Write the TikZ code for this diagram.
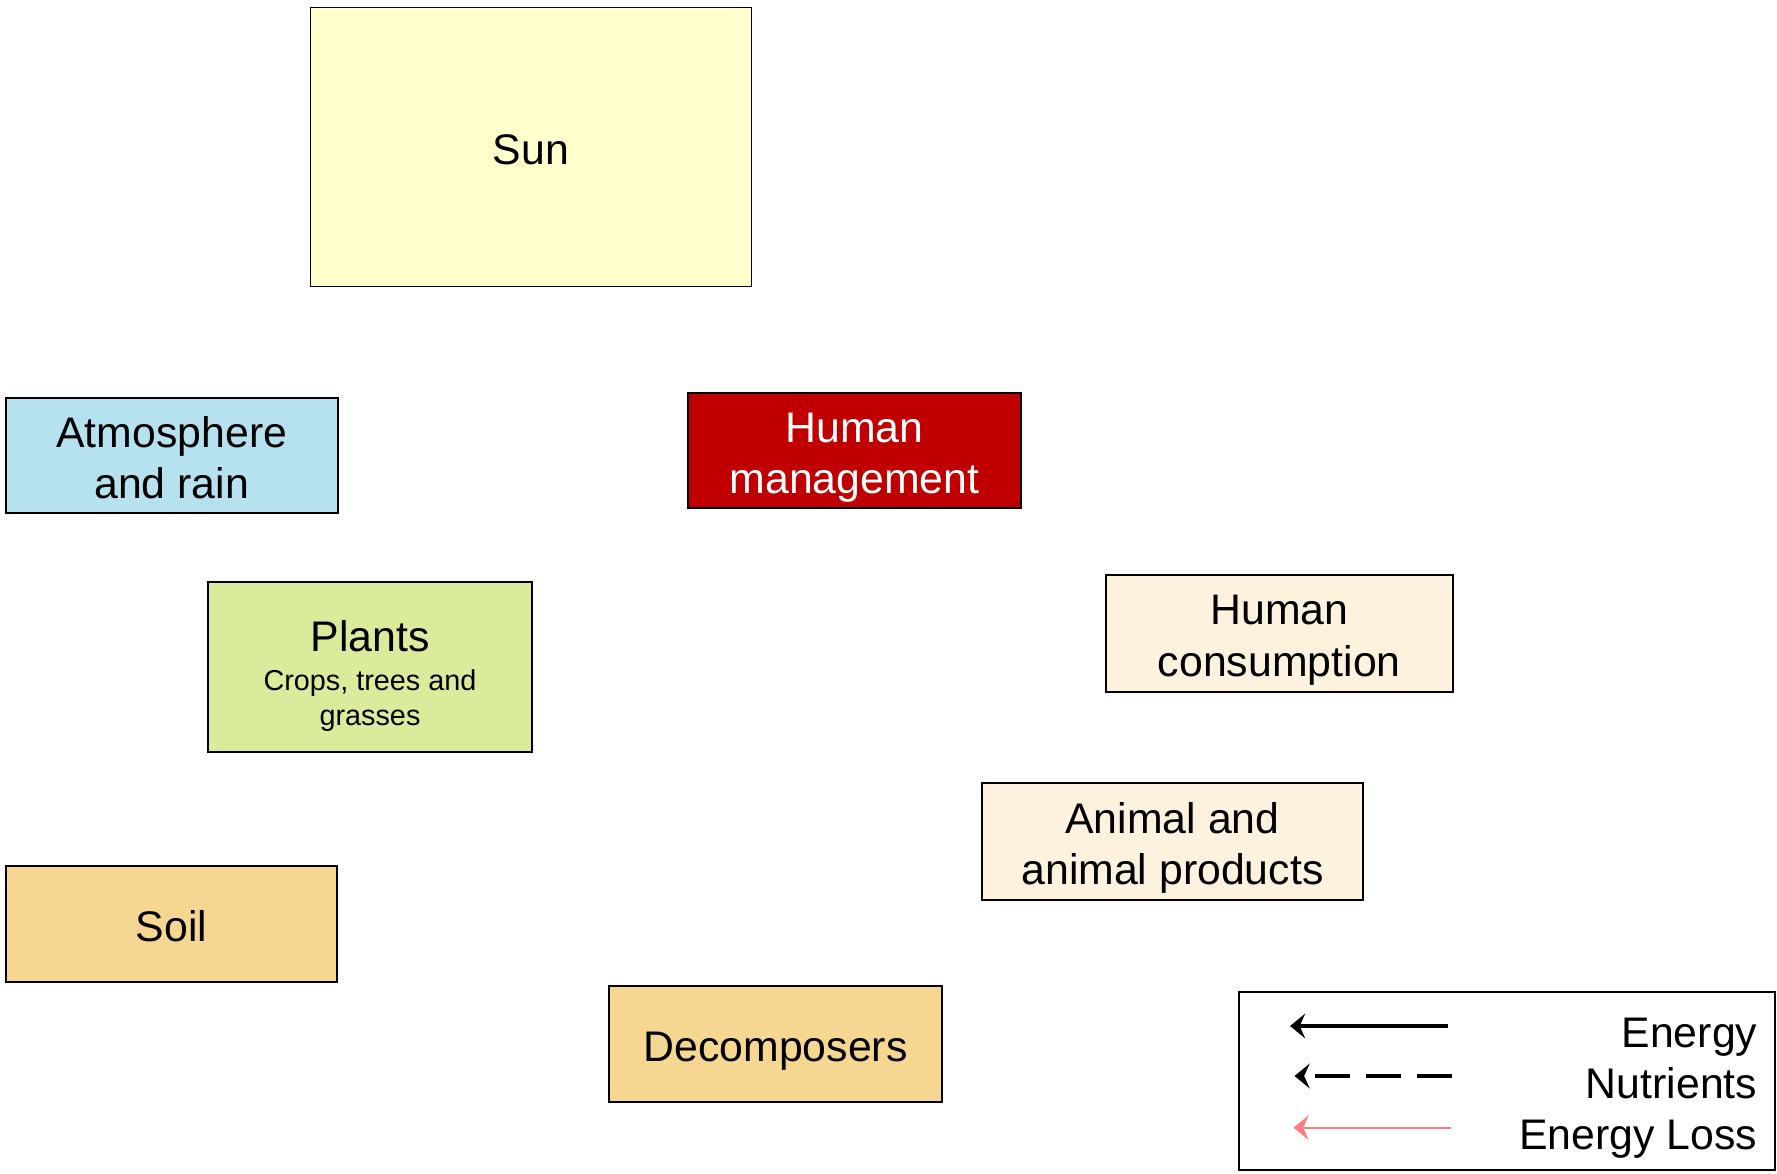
\documentclass[tikz,border=0pt]{standalone}
\usepackage{fontspec}
\setmainfont{Liberation Sans}
\usetikzlibrary{arrows.meta}

\definecolor{sunfill}{HTML}{FFFFCC}
\definecolor{atmosfill}{HTML}{B5E2EE}
\definecolor{mgmtfill}{HTML}{C00000}
\definecolor{plantfill}{HTML}{DAEB9B}
\definecolor{consfill}{HTML}{FDF2DD}
\definecolor{soilfill}{HTML}{F6D792}
\definecolor{lossred}{HTML}{FF7C80}

\newcommand{\subfont}{\fontsize{7.2}{8.5}\selectfont}

\begin{document}
\begin{tikzpicture}[x=0.25pt,y=-0.25pt,
    box/.style={draw,line width=0.45pt,inner sep=0pt,align=center,text depth=0pt,
        font=\fontsize{10.7}{12.9}\selectfont},
    oneline/.style={box,text height=9pt},
    twoline/.style={box,text height=21.6pt},
    tip/.style={-{Stealth[length=3.8pt,width=6.2pt,inset=1.4pt]}},
    energy/.style={tip,line width=1pt},
    nutrient/.style={tip,line width=1.1pt,dash pattern=on 8.8pt off 3.9pt},
    loss/.style={tip,line width=0.6pt,draw=lossred,fill=lossred},
    legtext/.style={anchor=base east,inner sep=0pt,font=\fontsize{10.7}{12.9}\selectfont}]
    \useasboundingbox (0,0) rectangle (1777,1174);

    % Sun, atmosphere and management
    \node[oneline,fill=sunfill,minimum width=110.25pt,minimum height=69.75pt] (sun) at (531,147) {Sun};
    \node[twoline,fill=atmosfill,minimum width=83pt,minimum height=28.9pt] (atmos) at (171.7,455.6) {Atmosphere\\and rain};
    \node[twoline,fill=mgmtfill,text=white,minimum width=83.25pt,minimum height=28.75pt] (humman) at (854.5,450.5) {Human\\management};

    % Plants, consumers
    \node[box,fill=plantfill,text height=29.4pt,minimum width=81pt,minimum height=42.5pt] (plants) at (370,667)
        {Plants\\[-3.2pt]{\subfont Crops, trees and}\\[-4.1pt]{\subfont grasses}};
    \node[twoline,fill=consfill,minimum width=86.75pt,minimum height=29.2pt] (humcons) at (1279.3,633.3) {Human\\consumption};
    \node[twoline,fill=consfill,minimum width=95.4pt,minimum height=29.2pt] (animal) at (1172.5,841.7) {Animal and\\animal products};

    % Soil and decomposers
    \node[oneline,fill=soilfill,minimum width=82.75pt,minimum height=29pt] (soil) at (171.5,923.7) {Soil};
    \node[oneline,fill=soilfill,minimum width=83.25pt,minimum height=29pt] (decomp) at (775.5,1043.7) {Decomposers};

    % Legend
    \node[draw,line width=0.45pt,minimum width=134pt,minimum height=44.5pt] (legend) at (1507,1081) {};
    \coordinate (etail) at (1448,1026);
    \coordinate (etip) at (1290,1026);
    \coordinate (ntail) at (1452,1076);
    \coordinate (ntip) at (1294.5,1076);
    \coordinate (ltail) at (1450.6,1127.7);
    \coordinate (ltip) at (1293.5,1127.7);
    \draw[energy] (etail) -- (etip);
    \draw[nutrient] (ntail) -- (ntip);
    \draw[loss] (ltail) -- (ltip);
    \node[legtext] (elabel) at (1758,1047.7) {Energy};
    \node[legtext] (nlabel) at (1758,1098) {Nutrients};
    \node[legtext] (llabel) at (1758,1149.4) {Energy Loss};
\end{tikzpicture}
\end{document}
